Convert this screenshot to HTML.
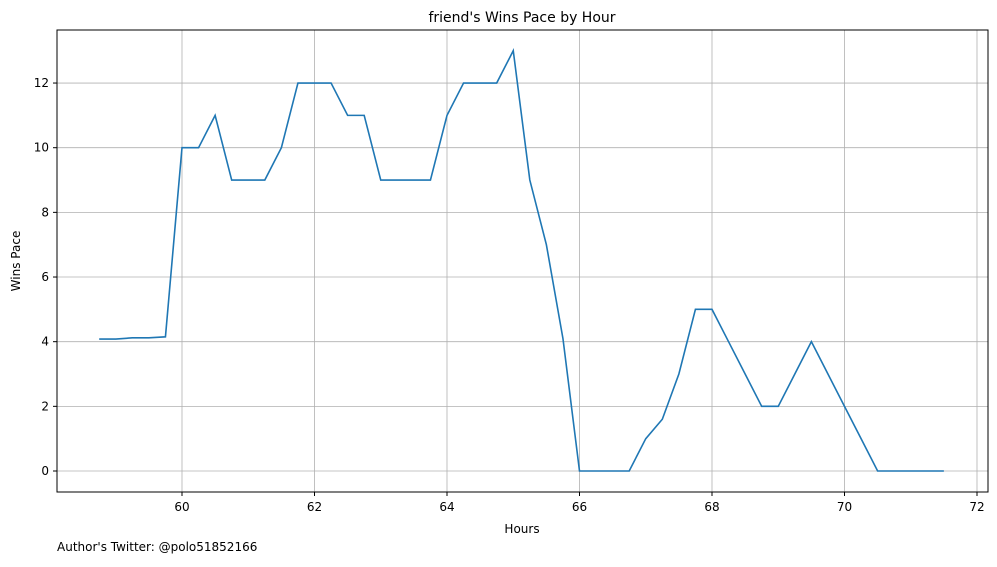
<!DOCTYPE html>
<html><head><meta charset="utf-8"><style>
body{margin:0;background:#fff;font-family:"Liberation Sans","DejaVu Sans",sans-serif;}
svg text{font-family:"DejaVu Sans","Liberation Sans",sans-serif;}
</style></head><body>
<svg id="chart" width="997" height="562" xmlns="http://www.w3.org/2000/svg">
<rect width="997" height="562" fill="#fff"/>
<g id="grid"></g>
<g id="ticks"></g>
<polyline id="line" fill="none" stroke="#1f77b4" stroke-width="1.6"/>
<rect x="57" y="30" width="931" height="462" fill="none" stroke="#000" stroke-width="1"/>
<text x="522" y="22" text-anchor="middle" font-size="14">friend's Wins Pace by Hour</text>
<text x="522" y="533" text-anchor="middle" font-size="12">Hours</text>
<text transform="translate(20,261) rotate(-90)" text-anchor="middle" font-size="12">Wins Pace</text>
<text x="57" y="551" font-size="12">Author's Twitter: @polo51852166</text>
</svg>
<script>
const hours=[58.75,59,59.25,59.5,59.75,60,60.25,60.5,60.75,61,61.25,61.5,61.75,62,62.25,62.5,62.75,63,63.25,63.5,63.75,64,64.25,64.5,64.75,65,65.25,65.5,65.75,66,66.25,66.5,66.75,67,67.25,67.5,67.75,68,68.25,68.5,68.75,69,69.25,69.5,69.75,70,70.25,70.5,70.75,71,71.25,71.5];
const pace=[4.08,4.08,4.12,4.12,4.15,10,10,11,9,9,9,10,12,12,12,11,11,9,9,9,9,11,12,12,12,13,9,7,4.1,0,0,0,0,1,1.6,3,5,5,4,3,2,2,3,4,3,2,1,0,0,0,0,0];
const xTicks=[60,62,64,66,68,70,72];
const yTicks=[0,2,4,6,8,10,12];
const X=v=>182+(v-60)*66.25;
const Y=v=>471-v*32.33;
const NS="http://www.w3.org/2000/svg";
const grid=document.getElementById('grid'),ticks=document.getElementById('ticks');
function mk(tag,attrs,parent){const e=document.createElementNS(NS,tag);for(const k in attrs)e.setAttribute(k,attrs[k]);parent.appendChild(e);return e;}
xTicks.forEach(t=>{const x=X(t);
 const g=mk('line',{x1:x,x2:x,y1:30,y2:492,stroke:'#b0b0b0','stroke-width':0.8},grid);
 
 
 mk('line',{x1:x,x2:x,y1:492,y2:496,stroke:'#000'},ticks);
 const l=mk('text',{x:x,y:511,'text-anchor':'middle','font-size':12},ticks);l.textContent=t;
 
 });
yTicks.forEach(t=>{const y=Y(t);
 const g=mk('line',{x1:57,x2:988,y1:y,y2:y,stroke:'#b0b0b0','stroke-width':0.8},grid);
 
 
 mk('line',{x1:53,x2:57,y1:y,y2:y,stroke:'#000'},ticks);
 const l=mk('text',{x:49,y:y+4,'text-anchor':'end','font-size':12},ticks);l.textContent=t;
 
 });
document.getElementById('line').setAttribute('points',hours.map((h,i)=>X(h)+','+Y(pace[i])).join(' '));
</script>
</body></html>
